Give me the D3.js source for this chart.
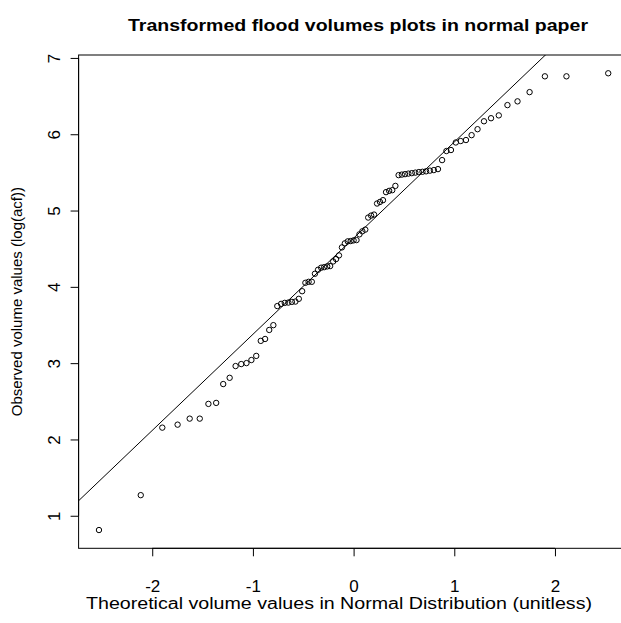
<!DOCTYPE html>
<html>
<head>
<meta charset="utf-8">
<script src="https://cdn.jsdelivr.net/npm/d3@7"></script>
<style>
  html, body { margin: 0; padding: 0; background: #fff; }
  svg { display: block; font-family: "Liberation Sans", Arial, sans-serif; }
</style>
</head>
<body>
<script>
// Theoretical normal quantiles (x)
const theoretical = [
  -2.529, -2.114, -1.900, -1.748, -1.628, -1.528, -1.442, -1.365, -1.295, -1.231,
  -1.172, -1.116, -1.064, -1.015, -0.967, -0.922, -0.879, -0.838, -0.797, -0.758,
  -0.720, -0.684, -0.648, -0.613, -0.578, -0.544, -0.511, -0.479, -0.447, -0.415,
  -0.384, -0.353, -0.322, -0.292, -0.262, -0.233, -0.203, -0.174, -0.145, -0.116,
  -0.087, -0.058, -0.029, 0.000, 0.029, 0.058, 0.087, 0.116, 0.145, 0.174,
  0.203, 0.233, 0.262, 0.292, 0.322, 0.353, 0.384, 0.415, 0.447, 0.479,
  0.511, 0.544, 0.578, 0.613, 0.648, 0.684, 0.720, 0.758, 0.797, 0.838,
  0.879, 0.922, 0.967, 1.015, 1.064, 1.116, 1.172, 1.231, 1.295, 1.365,
  1.442, 1.528, 1.628, 1.748, 1.900, 2.114, 2.529
];
// Observed sorted values log(acf)
const observed = [
  0.813, 1.270, 2.155, 2.194, 2.273, 2.273, 2.466, 2.479, 2.726, 2.808,
  2.962, 2.988, 3.001, 3.041, 3.095, 3.292, 3.317, 3.435, 3.498, 3.748,
  3.777, 3.790, 3.794, 3.803, 3.807, 3.843, 3.943, 4.053, 4.066, 4.066,
  4.172, 4.224, 4.251, 4.258, 4.268, 4.272, 4.333, 4.364, 4.412, 4.517,
  4.570, 4.596, 4.600, 4.609, 4.613, 4.688, 4.728, 4.750, 4.908, 4.934,
  4.947, 5.092, 5.113, 5.136, 5.241, 5.258, 5.267, 5.323, 5.464, 5.471,
  5.477, 5.484, 5.490, 5.497, 5.504, 5.508, 5.514, 5.523, 5.530, 5.543,
  5.661, 5.780, 5.793, 5.892, 5.911, 5.924, 5.988, 6.066, 6.170, 6.210,
  6.247, 6.382, 6.431, 6.552, 6.759, 6.759, 6.799
];
// Reference line (qqline) intercept and slope
const refLine = { intercept: 4.638, slope: 1.260 };
const xTicks = [-2, -1, 0, 1, 2];
const yTicks = [1, 2, 3, 4, 5, 6, 7];
const titleText = "Transformed flood volumes plots in normal paper";
const xLabel = "Theoretical volume values in Normal Distribution (unitless)";
const yLabel = "Observed volume values (log(acf))";

const W = 621, H = 623;
const plot = { left: 78.6, right: 628.6, top: 55, bottom: 548.3 };

const svg = d3.select("body").append("svg").attr("width", W).attr("height", H);

function extend(ext) { const r = ext[1] - ext[0]; return [ext[0] - 0.04 * r, ext[1] + 0.04 * r]; }
const x = d3.scaleLinear().domain(extend(d3.extent(theoretical))).range([plot.left, plot.right]);
const y = d3.scaleLinear().domain(extend(d3.extent(observed))).range([plot.bottom, plot.top]);

const data = theoretical.map((t, i) => ({ t, v: observed[i] }));

svg.append("defs").append("clipPath").attr("id", "clip")
  .append("rect").attr("x", plot.left).attr("y", plot.top)
  .attr("width", plot.right - plot.left).attr("height", plot.bottom - plot.top);

// reference line
const xd = x.domain();
svg.append("line")
  .attr("clip-path", "url(#clip)")
  .attr("x1", x(xd[0])).attr("y1", y(refLine.intercept + refLine.slope * xd[0]))
  .attr("x2", x(xd[1])).attr("y2", y(refLine.intercept + refLine.slope * xd[1]))
  .attr("stroke", "#000").attr("stroke-width", 1);

// points
svg.append("g").selectAll("circle").data(data).join("circle")
  .attr("cx", d => x(d.t)).attr("cy", d => y(d.v)).attr("r", 2.7)
  .attr("fill", "none").attr("stroke", "#000").attr("stroke-width", 1);

// box
svg.append("rect").attr("x", plot.left).attr("y", plot.top)
  .attr("width", plot.right - plot.left).attr("height", plot.bottom - plot.top)
  .attr("fill", "none").attr("stroke", "#000").attr("stroke-width", 1);

const FONT = "Liberation Sans, Arial, sans-serif";
// x axis
const xAxis = d3.axisBottom(x).tickValues(xTicks).tickSize(8).tickFormat(d3.format("d"));
const gx = svg.append("g").attr("transform", `translate(0,${plot.bottom})`).call(xAxis);
gx.select(".domain").attr("d", `M${x(xTicks[0])},0H${x(xTicks[xTicks.length-1])}`);
gx.selectAll("text").attr("font-size", 17).attr("font-family", FONT)
  .attr("fill", "#000").attr("dy", null).attr("y", 44)
  .text(d => d < 0 ? "-" + Math.abs(d) : d);

// y axis
const yAxis = d3.axisLeft(y).tickValues(yTicks).tickSize(8).tickFormat(d3.format("d"));
const gy = svg.append("g").attr("transform", `translate(${plot.left},0)`).call(yAxis);
gy.select(".domain").attr("d", `M0,${y(yTicks[0])}V${y(yTicks[yTicks.length-1])}`);
gy.selectAll(".tick text").attr("font-size", 17).attr("font-family", FONT)
  .attr("fill", "#000").attr("x", null).attr("dy", null)
  .attr("text-anchor", "middle")
  .attr("transform", "translate(-19,0) rotate(-90)");

// title
svg.append("text").attr("x", 358).attr("y", 31).attr("text-anchor", "middle")
  .attr("font-size", 17).attr("font-weight", "bold")
  .attr("textLength", 460).attr("lengthAdjust", "spacingAndGlyphs").text(titleText);
// x label
svg.append("text").attr("x", 339).attr("y", 609).attr("text-anchor", "middle")
  .attr("font-size", 16)
  .attr("textLength", 506).attr("lengthAdjust", "spacingAndGlyphs").text(xLabel);
// y label
svg.append("text").attr("transform", `translate(22,${(plot.top + plot.bottom) / 2}) rotate(-90)`)
  .attr("text-anchor", "middle").attr("font-size", 15).text(yLabel);
</script>
</body>
</html>
